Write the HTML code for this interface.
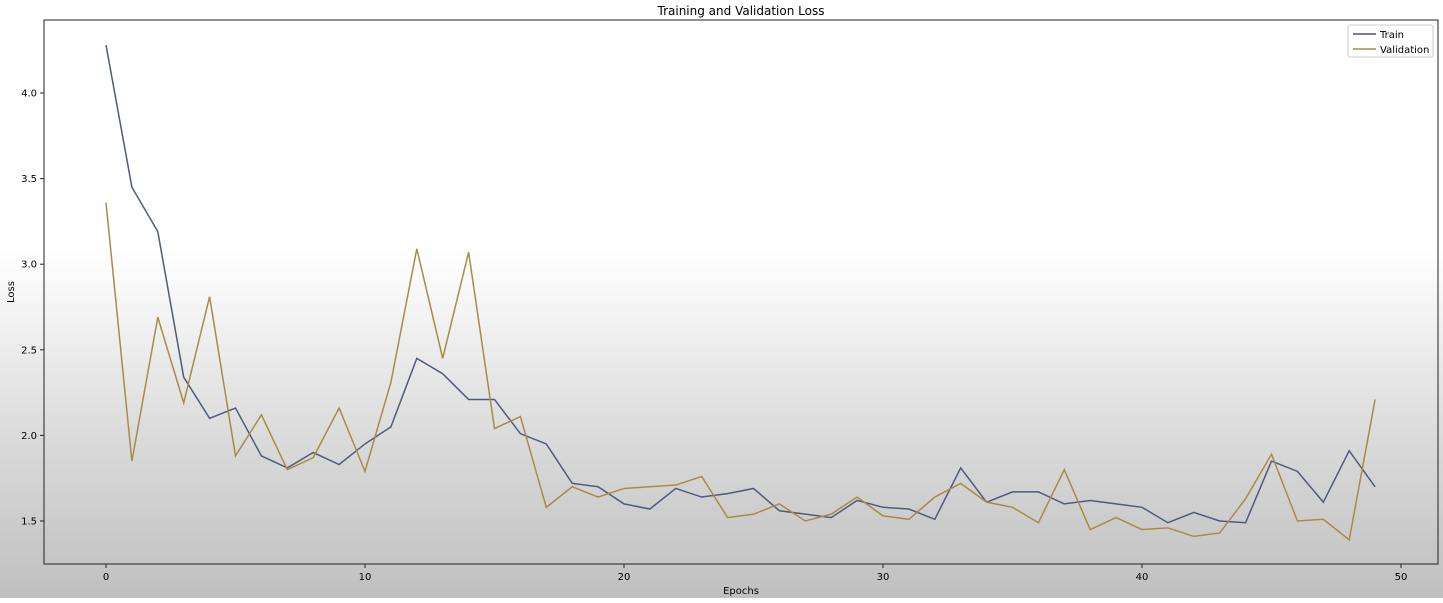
<!DOCTYPE html>
<html><head><meta charset="utf-8"><style>
html,body{margin:0;padding:0;}
body{width:1443px;height:598px;overflow:hidden;background:linear-gradient(to bottom,#fff 0px,#fff 250px,#f0f0f0 330px,#dcdcdc 430px,#c9c9c9 540px,#c0c0c0 598px);font-family:"Liberation Sans","DejaVu Sans",sans-serif;}
svg text{font-family:"DejaVu Sans","Liberation Sans",sans-serif;font-size:10px;fill:#000;}
</style></head><body>
<svg id="chart" width="1443" height="598" xmlns="http://www.w3.org/2000/svg">
<text x="741" y="15" text-anchor="middle" style="font-size:12px">Training and Validation Loss</text>
<g id="axes"></g>
<g id="series"></g>
<rect x="44" y="20" width="1394" height="544" fill="none" stroke="#222" stroke-width="1"/>
<text x="741" y="594" text-anchor="middle">Epochs</text>
<text transform="translate(14,292) rotate(-90)" text-anchor="middle">Loss</text>
<g>
<rect x="1348" y="25" width="85" height="32" rx="2" fill="#fff" fill-opacity="0.85" stroke="#ccc"/>
<line x1="1353" y1="34" x2="1376" y2="34" stroke="#4f5a7e" stroke-width="1.5"/>
<text x="1380" y="38">Train</text>
<line x1="1353" y1="49" x2="1376" y2="49" stroke="#a88c45" stroke-width="1.5"/>
<text x="1380" y="53">Validation</text>
</g>
</svg>
<script>
const epochs=[0,1,2,3,4,5,6,7,8,9,10,11,12,13,14,15,16,17,18,19,20,21,22,23,24,25,26,27,28,29,30,31,32,33,34,35,36,37,38,39,40,41,42,43,44,45,46,47,48,49];
const trainLoss=[4.28,3.45,3.19,2.34,2.10,2.16,1.88,1.81,1.90,1.83,1.95,2.05,2.45,2.36,2.21,2.21,2.01,1.95,1.72,1.70,1.60,1.57,1.69,1.64,1.66,1.69,1.56,1.54,1.52,1.62,1.58,1.57,1.51,1.81,1.61,1.67,1.67,1.60,1.62,1.60,1.58,1.49,1.55,1.50,1.49,1.85,1.79,1.61,1.91,1.70];
const valLoss=[3.36,1.85,2.69,2.19,2.81,1.88,2.12,1.80,1.87,2.16,1.79,2.31,3.09,2.45,3.07,2.04,2.11,1.58,1.70,1.64,1.69,1.70,1.71,1.76,1.52,1.54,1.60,1.50,1.54,1.64,1.53,1.51,1.64,1.72,1.61,1.58,1.49,1.80,1.45,1.52,1.45,1.46,1.41,1.43,1.63,1.89,1.50,1.51,1.39,2.21];
const xTicks=[0,10,20,30,40,50];
const yTicks=[1.5,2.0,2.5,3.0,3.5,4.0];
const yTickLabels=["1.5","2.0","2.5","3.0","3.5","4.0"];
function xs(v){return 106+v*25.9;}
function ys(v){return 521-(v-1.5)*171.2;}
const NS="http://www.w3.org/2000/svg";
const axes=document.getElementById('axes');
xTicks.forEach(function(t){
  const l=document.createElementNS(NS,'line');
  
  
  l.setAttribute('x1',xs(t));l.setAttribute('x2',xs(t));l.setAttribute('y1',564);l.setAttribute('y2',568);l.setAttribute('stroke','#222');
  axes.appendChild(l);
  const tx=document.createElementNS(NS,'text');
  
  
  tx.setAttribute('x',xs(t));tx.setAttribute('y',580);tx.setAttribute('text-anchor','middle');tx.textContent=String(t);
  axes.appendChild(tx);
});
yTicks.forEach(function(t,i){
  const l=document.createElementNS(NS,'line');
  
  
  l.setAttribute('x1',40);l.setAttribute('x2',44);l.setAttribute('y1',ys(t));l.setAttribute('y2',ys(t));l.setAttribute('stroke','#222');
  axes.appendChild(l);
  const tx=document.createElementNS(NS,'text');
  
  
  tx.setAttribute('x',37);tx.setAttribute('y',ys(t)+3.5);tx.setAttribute('text-anchor','end');tx.textContent=yTickLabels[i];
  axes.appendChild(tx);
});
const series=document.getElementById('series');
function draw(data,color,name){
  const p=document.createElementNS(NS,'polyline');
  
  
  p.setAttribute('points',data.map(function(v,i){return xs(epochs[i])+','+ys(v);}).join(' '));
  p.setAttribute('fill','none');p.setAttribute('stroke',color);p.setAttribute('stroke-width','1.5');
  series.appendChild(p);
}
draw(trainLoss,'#4f5a7e','train-line');
draw(valLoss,'#a88c45','validation-line');
</script>
</body></html>
